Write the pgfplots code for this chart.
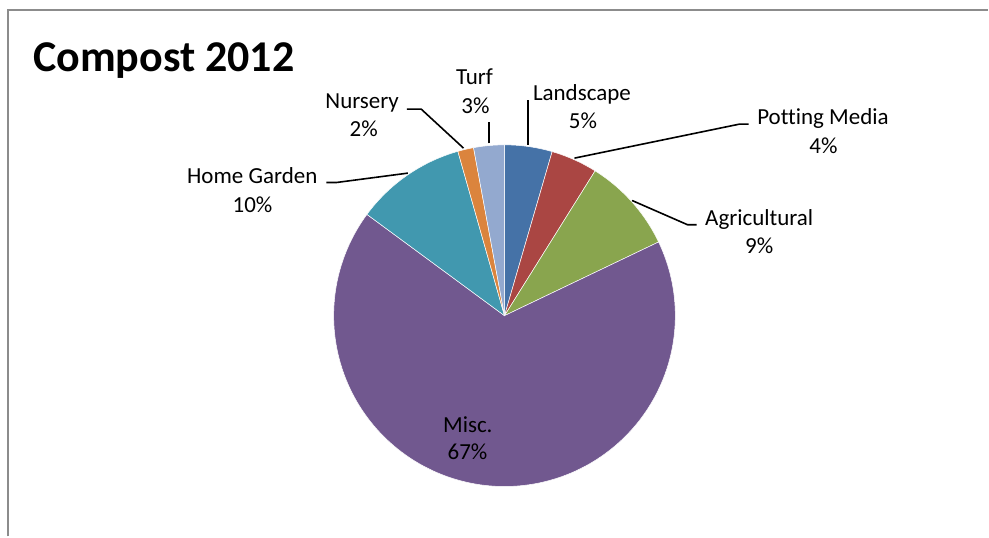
\documentclass[border=0pt]{standalone}
\usepackage{pgfplots}
\pgfplotsset{compat=1.18}
\usepackage{fontspec}
\setmainfont{Carlito}[Ligatures=NoCommon]
\definecolor{cLand}{HTML}{4572A7}
\definecolor{cPot}{HTML}{AA4643}
\definecolor{cAgr}{HTML}{89A54E}
\definecolor{cMisc}{HTML}{71588F}
\definecolor{cHome}{HTML}{4198AF}
\definecolor{cNur}{HTML}{DB843D}
\definecolor{cTurf}{HTML}{93A9CF}
\definecolor{frame}{HTML}{8C8C8C}
\begin{document}
\begin{tikzpicture}
% shares in percent, clockwise from 12 o'clock
\def\vLand{4.5}\def\vPot{4.4}\def\vAgr{9.0}\def\vMisc{67.2}\def\vHome{10.5}\def\vNur{1.5}\def\vTurf{2.9}
\pgfmathsetmacro\aA{90}
\pgfmathsetmacro\aB{\aA-3.6*\vLand}
\pgfmathsetmacro\aC{\aB-3.6*\vPot}
\pgfmathsetmacro\aD{\aC-3.6*\vAgr}
\pgfmathsetmacro\aE{\aD-3.6*\vMisc}
\pgfmathsetmacro\aF{\aE-3.6*\vHome}
\pgfmathsetmacro\aG{\aF-3.6*\vNur}
\pgfmathsetmacro\aH{\aG-3.6*\vTurf}
\def\cx{505}\def\cy{221}\def\rr{171}
\begin{axis}[scale only axis, width=989pt, height=537pt,
  xmin=0, xmax=989, ymin=0, ymax=537, hide axis, clip=false]
\path (axis cs:0,0) rectangle (axis cs:989,537);
\draw[frame, line width=2pt] (axis cs:8,0) -- (axis cs:8,527) -- (axis cs:989,527);
\addplot[fill=cLand, draw=white, line width=0.5pt, domain=\aB:\aA, samples=30, variable=\t] ({\cx+\rr*cos(\t)},{\cy+\rr*sin(\t)}) -- (axis cs:\cx,\cy) -- cycle;
\addplot[fill=cPot, draw=white, line width=0.5pt, domain=\aC:\aB, samples=30, variable=\t] ({\cx+\rr*cos(\t)},{\cy+\rr*sin(\t)}) -- (axis cs:\cx,\cy) -- cycle;
\addplot[fill=cAgr, draw=white, line width=0.5pt, domain=\aD:\aC, samples=40, variable=\t] ({\cx+\rr*cos(\t)},{\cy+\rr*sin(\t)}) -- (axis cs:\cx,\cy) -- cycle;
\addplot[fill=cMisc, draw=white, line width=0.5pt, domain=\aE:\aD, samples=150, variable=\t] ({\cx+\rr*cos(\t)},{\cy+\rr*sin(\t)}) -- (axis cs:\cx,\cy) -- cycle;
\addplot[fill=cHome, draw=white, line width=0.5pt, domain=\aF:\aE, samples=40, variable=\t] ({\cx+\rr*cos(\t)},{\cy+\rr*sin(\t)}) -- (axis cs:\cx,\cy) -- cycle;
\addplot[fill=cNur, draw=white, line width=0.5pt, domain=\aG:\aF, samples=20, variable=\t] ({\cx+\rr*cos(\t)},{\cy+\rr*sin(\t)}) -- (axis cs:\cx,\cy) -- cycle;
\addplot[fill=cTurf, draw=white, line width=0.5pt, domain=\aH:\aG, samples=20, variable=\t] ({\cx+\rr*cos(\t)},{\cy+\rr*sin(\t)}) -- (axis cs:\cx,\cy) -- cycle;
% title
\node[anchor=base west, inner sep=0pt, font=\fontsize{44}{50}\selectfont\bfseries] at (axis cs:33,465) {Compost 2012};
% leader lines
\begin{scope}[black, line width=1.6pt]
\draw (axis cs:489.5,393.5) -- (axis cs:489.5,415);
\draw (axis cs:528.7,392) -- (axis cs:528.7,437);
\draw (axis cs:464,388.7) -- (axis cs:421.7,427.7) -- (axis cs:407.3,427.7);
\draw (axis cs:408.3,363.7) -- (axis cs:336.7,354.3) -- (axis cs:326.7,354.3);
\draw (axis cs:575,378.7) -- (axis cs:740,412.7) -- (axis cs:749.3,412.7);
\draw (axis cs:632.7,336.3) -- (axis cs:688.3,312) -- (axis cs:697.3,312);
\end{scope}
% labels
\begin{scope}[every node/.style={anchor=base, inner sep=0pt, font=\fontsize{23}{28}\selectfont}]
\node at (axis cs:475,452) {Turf};
\node at (axis cs:476,423.7) {3\%};
\node at (axis cs:582.5,436.3) {Landscape};
\node at (axis cs:583.5,408) {5\%};
\node at (axis cs:362.5,428.5) {Nursery};
\node at (axis cs:364,400.3) {2\%};
\node at (axis cs:252.5,353.7) {Home Garden};
\node at (axis cs:252.8,324.3) {10\%};
\node at (axis cs:823.8,412) {Potting Media};
\node at (axis cs:824.3,383) {4\%};
\node at (axis cs:760,311) {Agricultural};
\node at (axis cs:760,283) {9\%};
\node at (axis cs:468.3,103.7) {Misc.};
\node at (axis cs:468,77) {67\%};
\end{scope}
\end{axis}
\end{tikzpicture}
\end{document}
